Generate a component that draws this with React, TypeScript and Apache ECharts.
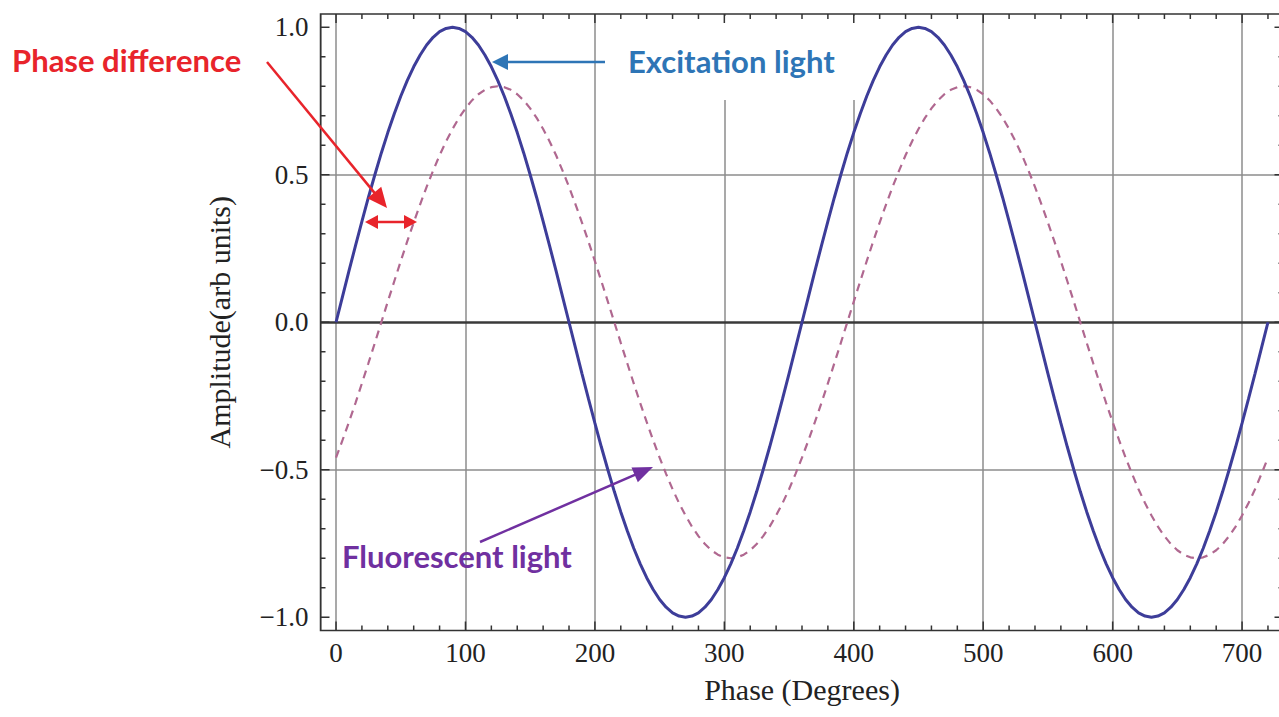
import React, { useEffect, useRef } from 'react';
import * as echarts from 'echarts';

// ---- data ----
const PHASE = [
  0, 5, 10, 15, 20, 25, 30, 35, 40, 45, 50, 55, 60, 65, 70, 75, 80, 85, 90, 95,
  100, 105, 110, 115, 120, 125, 130, 135, 140, 145, 150, 155, 160, 165, 170, 175, 180, 185, 190, 195,
  200, 205, 210, 215, 220, 225, 230, 235, 240, 245, 250, 255, 260, 265, 270, 275, 280, 285, 290, 295,
  300, 305, 310, 315, 320, 325, 330, 335, 340, 345, 350, 355, 360, 365, 370, 375, 380, 385, 390, 395,
  400, 405, 410, 415, 420, 425, 430, 435, 440, 445, 450, 455, 460, 465, 470, 475, 480, 485, 490, 495,
  500, 505, 510, 515, 520, 525, 530, 535, 540, 545, 550, 555, 560, 565, 570, 575, 580, 585, 590, 595,
  600, 605, 610, 615, 620, 625, 630, 635, 640, 645, 650, 655, 660, 665, 670, 675, 680, 685, 690, 695,
  700, 705, 710, 715, 720,
];
const EXCITATION = [
  0, 0.087, 0.174, 0.259, 0.342, 0.423, 0.5, 0.574, 0.643, 0.707, 0.766, 0.819, 0.866, 0.906, 0.94, 0.966, 0.985, 0.996, 1,
  0.996, 0.985, 0.966, 0.94, 0.906, 0.866, 0.819, 0.766, 0.707, 0.643, 0.574, 0.5, 0.423, 0.342, 0.259, 0.174, 0.087,
  0, -0.087, -0.174, -0.259, -0.342, -0.423, -0.5, -0.574, -0.643, -0.707, -0.766, -0.819, -0.866, -0.906, -0.94, -0.966, -0.985, -0.996, -1,
  -0.996, -0.985, -0.966, -0.94, -0.906, -0.866, -0.819, -0.766, -0.707, -0.643, -0.574, -0.5, -0.423, -0.342, -0.259, -0.174, -0.087,
  0, 0.087, 0.174, 0.259, 0.342, 0.423, 0.5, 0.574, 0.643, 0.707, 0.766, 0.819, 0.866, 0.906, 0.94, 0.966, 0.985, 0.996, 1,
  0.996, 0.985, 0.966, 0.94, 0.906, 0.866, 0.819, 0.766, 0.707, 0.643, 0.574, 0.5, 0.423, 0.342, 0.259, 0.174, 0.087,
  0, -0.087, -0.174, -0.259, -0.342, -0.423, -0.5, -0.574, -0.643, -0.707, -0.766, -0.819, -0.866, -0.906, -0.94, -0.966, -0.985, -0.996, -1,
  -0.996, -0.985, -0.966, -0.94, -0.906, -0.866, -0.819, -0.766, -0.707, -0.643, -0.574, -0.5, -0.423, -0.342, -0.259, -0.174, -0.087,
  0,
];
const FLUORESCENT = [
  -0.459, -0.4, -0.338, -0.274, -0.207, -0.139, -0.07, 0, 0.07, 0.139, 0.207, 0.274, 0.338, 0.4, 0.459, 0.514, 0.566, 0.613,
  0.655, 0.693, 0.725, 0.752, 0.773, 0.788, 0.797, 0.8, 0.797, 0.788, 0.773, 0.752, 0.725, 0.693, 0.655, 0.613, 0.566, 0.514,
  0.459, 0.4, 0.338, 0.274, 0.207, 0.139, 0.07, 0, -0.07, -0.139, -0.207, -0.274, -0.338, -0.4, -0.459, -0.514, -0.566, -0.613,
  -0.655, -0.693, -0.725, -0.752, -0.773, -0.788, -0.797, -0.8, -0.797, -0.788, -0.773, -0.752, -0.725, -0.693, -0.655, -0.613, -0.566, -0.514,
  -0.459, -0.4, -0.338, -0.274, -0.207, -0.139, -0.07, 0, 0.07, 0.139, 0.207, 0.274, 0.338, 0.4, 0.459, 0.514, 0.566, 0.613,
  0.655, 0.693, 0.725, 0.752, 0.773, 0.788, 0.797, 0.8, 0.797, 0.788, 0.773, 0.752, 0.725, 0.693, 0.655, 0.613, 0.566, 0.514,
  0.459, 0.4, 0.338, 0.274, 0.207, 0.139, 0.07, 0, -0.07, -0.139, -0.207, -0.274, -0.338, -0.4, -0.459, -0.514, -0.566, -0.613,
  -0.655, -0.693, -0.725, -0.752, -0.773, -0.788, -0.797, -0.8, -0.797, -0.788, -0.773, -0.752, -0.725, -0.693, -0.655, -0.613, -0.566, -0.514,
  -0.459,
];
const X_TICKS = [
  0, 20, 40, 60, 80, 100, 120, 140, 160, 180, 200, 220, 240, 260, 280, 300, 320, 340, 360,
  380, 400, 420, 440, 460, 480, 500, 520, 540, 560, 580, 600, 620, 640, 660, 680, 700, 720,
];
const Y_TICKS = [
  -1.0, -0.9, -0.8, -0.7, -0.6, -0.5, -0.4, -0.3, -0.2, -0.1, 0, 0.1, 0.2, 0.3, 0.4, 0.5, 0.6, 0.7, 0.8, 0.9, 1.0,
];
const Y_GRID = [-0.5, 0.5];
const X_TITLE = 'Phase (Degrees)';
const Y_TITLE = 'Amplitude(arb units)';

// ---- layout ----
const X_MIN = -12;
const X_MAX = 732;
const Y_MIN = -1.045;
const Y_MAX = 1.045;
const GRID_LEFT = 320.5;
const GRID_TOP = 14;
const GRID_W = 963;
const GRID_H = 616.5;
const FRAME = '#333333';
const GRIDLINE = '#8c8c8c';
const SERIF = '"Liberation Serif", "Times New Roman", serif';
const SANS = 'Lato, "Open Sans", sans-serif';

function arrow(x1: number, y1: number, x2: number, y2: number, color: string,
  headLen: number, headW: number, lineW: number, both = false): any[] {
  const dx = x2 - x1, dy = y2 - y1;
  const L = Math.hypot(dx, dy);
  const ux = dx / L, uy = dy / L;
  const px = -uy, py = ux;
  const head = (tx: number, ty: number, sx: number, sy: number) => {
    const bx = tx - sx * headLen, by = ty - sy * headLen;
    return {
      type: 'polygon', z: 20,
      shape: { points: [[tx, ty], [bx + px * headW / 2, by + py * headW / 2], [bx - px * headW / 2, by - py * headW / 2]] },
      style: { fill: color },
    };
  };
  const sx = both ? x1 + ux * (headLen - 2) : x1;
  const sy = both ? y1 + uy * (headLen - 2) : y1;
  const els: any[] = [
    {
      type: 'line', z: 20,
      shape: { x1: sx, y1: sy, x2: x2 - ux * (headLen - 2), y2: y2 - uy * (headLen - 2) },
      style: { stroke: color, lineWidth: lineW },
    },
    head(x2, y2, ux, uy),
  ];
  if (both) els.push(head(x1, y1, -ux, -uy));
  return els;
}

function label(text: string, x: number, y: number, color: string): any {
  return {
    type: 'text', z: 20, x, y,
    style: { text, fill: color, fontFamily: SANS, fontWeight: 'bold', fontSize: 31, verticalAlign: 'middle', align: 'left' },
  };
}

export default function App() {
  const ref = useRef<HTMLDivElement>(null);
  useEffect(() => {
    if (!ref.current) return;
    const chart = echarts.init(ref.current, undefined, { renderer: 'svg' });
    const excitation = PHASE.map((p, i) => [p, EXCITATION[i]]);
    const fluorescent = PHASE.map((p, i) => [p, FLUORESCENT[i]]);
    const xTickData = X_TICKS.map((v) => [v, v % 100 === 0 ? 1 : 0]);
    const yTickData = Y_TICKS.map((v) => [Math.abs(v * 2 - Math.round(v * 2)) < 1e-6 ? 1 : 0, v]);

    const option: any = {
      animation: false,
      backgroundColor: '#ffffff',
      grid: { left: GRID_LEFT, top: GRID_TOP, width: GRID_W, height: GRID_H, show: false },
      xAxis: {
        type: 'value', min: X_MIN, max: X_MAX, splitNumber: 7,
        name: X_TITLE, nameLocation: 'middle', nameGap: 44,
        nameTextStyle: { fontFamily: SERIF, fontSize: 30, color: '#222' },
        axisLine: { show: false }, axisTick: { show: false },
        axisLabel: {
          margin: 9, fontFamily: SERIF, fontSize: 27, color: '#222',
          formatter: (v: number) => (Math.abs(v % 100) < 1e-9 ? String(v) : ''),
        },
        splitLine: { show: true, lineStyle: { color: GRIDLINE, width: 1.5 } },
      },
      yAxis: {
        type: 'value', min: Y_MIN, max: Y_MAX, splitNumber: 4,
        name: Y_TITLE, nameLocation: 'middle', nameGap: 86,
        nameTextStyle: { fontFamily: SERIF, fontSize: 30, color: '#222' },
        axisLine: { show: false }, axisTick: { show: false },
        axisLabel: {
          margin: 12, fontFamily: SERIF, fontSize: 27, color: '#222',
          formatter: (v: number) => {
            if (Math.abs(v * 2 - Math.round(v * 2)) > 1e-6) return '';
            const s = Math.abs(v).toFixed(1);
            return v < -1e-9 ? '\u2212' + s : s;
          },
        },
        splitLine: { show: false },
      },
      graphic: {
        elements: [
          // frame
          {
            type: 'rect', z: 5, silent: true,
            shape: { x: GRID_LEFT, y: GRID_TOP, width: GRID_W, height: GRID_H },
            style: { fill: 'none', stroke: FRAME, lineWidth: 1.5 },
          },
          // blank patch behind the "Excitation light" label
          {
            type: 'rect', z: 1, silent: true,
            shape: { x: 612, y: GRID_TOP + 2, width: 266, height: 84 },
            style: { fill: '#ffffff' },
          },
          label('Phase difference', 12, 60, '#e8242b'),
          ...arrow(267, 62, 387, 208, '#e8242b', 20, 18, 2.5),
          ...arrow(365, 222, 417, 222, '#e8242b', 13, 14, 2.5, true),
          label('Excitation light', 628, 61, '#2e75b6'),
          ...arrow(605, 62, 492, 62, '#2e75b6', 16, 16, 2.5),
          label('Fluorescent light', 342, 556, '#7030a0'),
          ...arrow(480, 542, 653, 467, '#7030a0', 20, 16, 2.5),
        ],
      },
      series: [
        {
          name: 'Fluorescent light', type: 'line', data: fluorescent, smooth: false,
          showSymbol: false, z: 3,
          lineStyle: { color: '#b06890', width: 2.2, type: [8, 6] },
        },
        {
          name: 'Excitation light', type: 'line', data: excitation, smooth: false,
          showSymbol: false, z: 4,
          lineStyle: { color: '#3d3d99', width: 3 },
          markLine: {
            silent: true, symbol: ['none', 'none'], z: 2,
            label: { show: false },
            data: [
              { yAxis: 0, lineStyle: { color: '#3a3a3a', width: 2.5, type: 'solid' } },
              ...Y_GRID.map((v) => ({ yAxis: v, lineStyle: { color: GRIDLINE, width: 1.5, type: 'solid' } })),
            ],
          },
        },
        {
          name: 'xTicks', type: 'custom', z: 6, silent: true, data: xTickData,
          encode: { x: 0, y: 1 },
          renderItem: (_p: any, api: any) => {
            const x = api.value(0);
            const len = api.value(1) ? 9 : 5;
            const b = api.coord([x, Y_MIN]);
            const t = api.coord([x, Y_MAX]);
            const st = { stroke: FRAME, lineWidth: 1.5 };
            return {
              type: 'group', children: [
                { type: 'line', shape: { x1: b[0], y1: b[1], x2: b[0], y2: b[1] - len }, style: st },
                { type: 'line', shape: { x1: t[0], y1: t[1], x2: t[0], y2: t[1] + len }, style: st },
              ],
            };
          },
        },
        {
          name: 'yTicks', type: 'custom', z: 6, silent: true, data: yTickData,
          encode: { x: 0, y: 1 },
          renderItem: (_p: any, api: any) => {
            const y = api.value(1);
            const len = api.value(0) ? 9 : 5;
            const l = api.coord([X_MIN, y]);
            const r = api.coord([X_MAX, y]);
            const st = { stroke: FRAME, lineWidth: 1.5 };
            return {
              type: 'group', children: [
                { type: 'line', shape: { x1: l[0], y1: l[1], x2: l[0] + len, y2: l[1] }, style: st },
                { type: 'line', shape: { x1: r[0], y1: r[1], x2: r[0] - len, y2: r[1] }, style: st },
              ],
            };
          },
        },
      ],
    };
    chart.setOption(option);
    return () => chart.dispose();
  }, []);
  return (
    <div
      ref={ref}
      style={{ position: 'fixed', left: 0, top: 0, width: 1290, height: 717, background: '#fff' }}
    />
  );
}
